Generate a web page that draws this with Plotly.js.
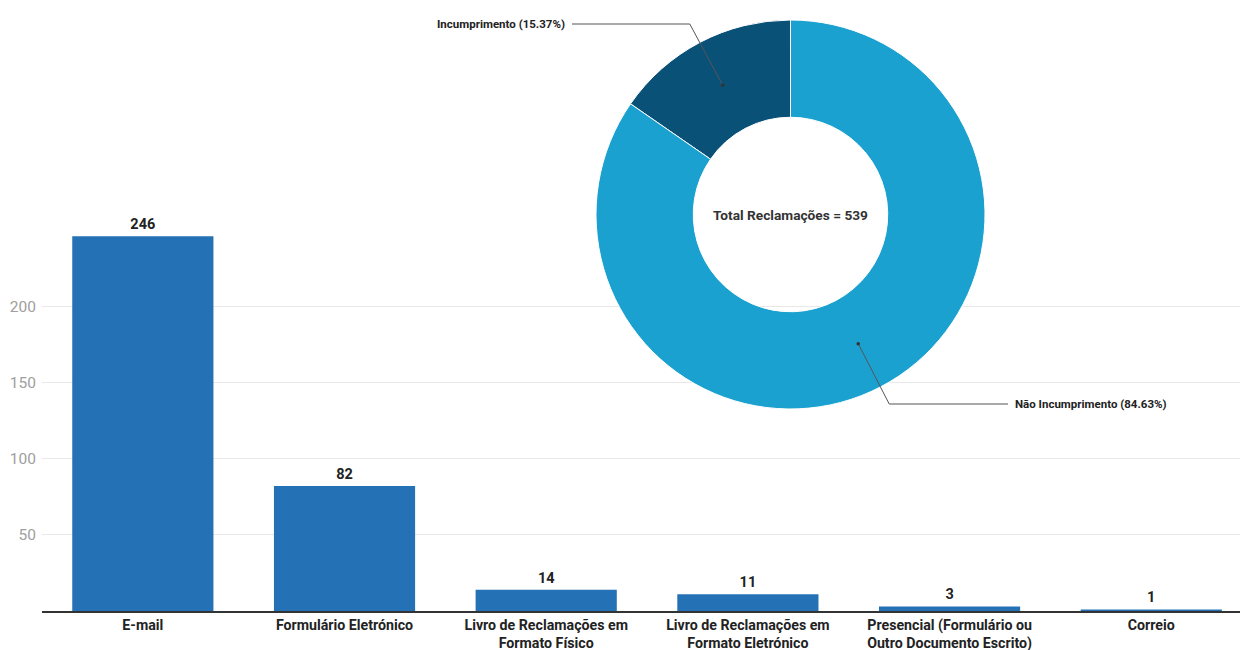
<!DOCTYPE html>
<html>
<head>
<meta charset="utf-8">
<script src="https://cdn.plot.ly/plotly-3.0.1.min.js"></script>
<style>html,body{margin:0;padding:0;background:#fff;}#chart{width:1240px;height:650px;}</style>
</head>
<body>
<div id="chart"></div>
<script>
// ---- data ----
const channels = ["E-mail", "Formulário Eletrónico", "Livro de Reclamações em<br>Formato Físico", "Livro de Reclamações em<br>Formato Eletrónico", "Presencial (Formulário ou<br>Outro Documento Escrito)", "Correio"];
const channelCounts = [246, 82, 14, 11, 3, 1];
const yTickVals = [50, 100, 150, 200];
const statusLabels = ["Incumprimento", "Não Incumprimento"];
const statusPercents = [15.37, 84.63];
const totalComplaints = 539;

// ---- layout constants ----
const W = 1240, H = 650;
const pieX = [596 / W, 985 / W];
const pieY = [1 - 409 / H, 1 - 20 / H];
const hole = 0.5;
const font = "Roboto, 'Noto Sans', Arial, sans-serif";
const total = statusPercents.reduce((a, b) => a + b, 0);

const bar = {
  type: "bar",
  x: channels,
  y: channelCounts,
  marker: {color: "#2571b5"},
  text: channelCounts.map(String),
  textposition: "outside",
  cliponaxis: false,
  textfont: {family: font, size: 14.5, color: "#222", weight: 700},
  hoverinfo: "x+y",
  xaxis: "x", yaxis: "y"
};

const pie = {
  type: "pie",
  labels: statusLabels,
  values: statusPercents,
  hole: hole,
  sort: false,
  direction: "clockwise",
  rotation: -360 * statusPercents[0] / total,
  textinfo: "none",
  marker: {colors: ["#0a5178", "#1ba1cf"], line: {color: "#ffffff", width: 1}},
  domain: {x: pieX, y: pieY},
  showlegend: false
};

// leader lines computed from slice mid-angles (first slice runs counterclockwise from 12 o'clock)
const cxPx = (pieX[0] + pieX[1]) / 2 * W;
const cyPx = (1 - (pieY[0] + pieY[1]) / 2) * H;
const R = (pieX[1] - pieX[0]) * W / 2;
const rMid = R * (1 + hole) / 2;
let cum = 0;
const anchors = statusPercents.map(v => {
  const phi = (90 + 360 * (cum + v / 2) / total) * Math.PI / 180;
  cum += v;
  return {x: cxPx + rMid * Math.cos(phi), y: cyPx - rMid * Math.sin(phi)};
});
const labelGeom = [
  {ly: 24, edx: -33, ex: 572, side: "right"},
  {ly: 404, edx: 31, ex: 1008, side: "left"}
];
const shapes = [];
const annotations = [];
anchors.forEach((a, i) => {
  const g = labelGeom[i];
  const px = v => v / W, py = v => 1 - v / H;
  shapes.push({
    type: "path", xref: "paper", yref: "paper",
    path: `M ${px(a.x)},${py(a.y)} L ${px(a.x + g.edx)},${py(g.ly)} L ${px(g.ex)},${py(g.ly)}`,
    line: {color: "#555", width: 1}
  });
  shapes.push({
    type: "circle", xref: "paper", yref: "paper", xsizemode: "pixel", ysizemode: "pixel",
    xanchor: px(a.x), yanchor: py(a.y), x0: -1.8, x1: 1.8, y0: -1.8, y1: 1.8,
    fillcolor: "#333", line: {width: 0}
  });
  annotations.push({
    xref: "paper", yref: "paper",
    x: px(g.side === "right" ? g.ex - 5 : g.ex + 5), y: py(g.ly),
    xanchor: g.side, yanchor: "middle", showarrow: false,
    text: `${statusLabels[i]} (${statusPercents[i].toFixed(2)}%)`,
    font: {family: font, size: 11.5, color: "#222", weight: 700}
  });
});
annotations.push({
  xref: "paper", yref: "paper", x: cxPx / W, y: 1 - cyPx / H,
  xanchor: "center", yanchor: "middle", showarrow: false,
  text: `Total Reclamações = ${totalComplaints}`,
  font: {family: font, size: 13.7, color: "#333", weight: 700}
});

const layout = {
  width: W, height: H,
  margin: {l: 0, r: 0, t: 0, b: 0},
  paper_bgcolor: "#fff", plot_bgcolor: "#fff",
  showlegend: false,
  bargap: 0.3,
  font: {family: font},
  xaxis: {
    domain: [42 / W, 1],
    range: [-0.5, 5.44],
    showline: true, linecolor: "#333", linewidth: 1.5,
    showgrid: false, ticks: "", automargin: false,
    ticklabelstandoff: 0,
    tickfont: {family: font, size: 14.2, color: "#222", weight: 700}
  },
  yaxis: {
    domain: [39 / H, 1 - 215 / H],
    range: [0, 260],
    tickvals: yTickVals,
    showgrid: true, gridcolor: "#e8e8e8", gridwidth: 1,
    zeroline: false, showline: false, ticks: "", automargin: false,
    ticklabelstandoff: 5,
    tickfont: {family: font, size: 15.5, color: "#9e9e9e"}
  },
  shapes: shapes,
  annotations: annotations
};

Plotly.newPlot("chart", [bar, pie], layout, {displayModeBar: false, staticPlot: true});
</script>
</body>
</html>
